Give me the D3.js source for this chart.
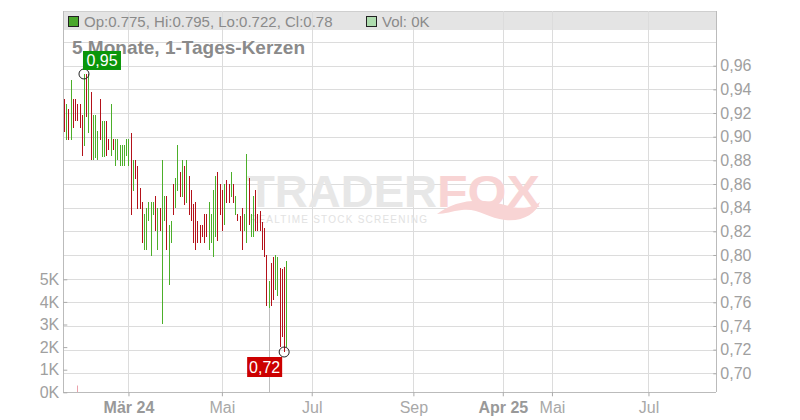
<!DOCTYPE html>
<html><head><meta charset="utf-8">
<script src="https://cdn.jsdelivr.net/npm/d3@7/dist/d3.min.js"></script>
<style>
html,body{margin:0;padding:0;background:#fff;}
svg{display:block;font-family:"Liberation Sans",Arial,sans-serif;}
</style></head><body>
<svg id="c" width="800" height="420"></svg>
<script>
const highs = [0.932,0.928,0.923,0.948,0.932,0.932,0.928,0.928,0.918,0.953,0.953,0.953,0.938,0.918,0.918,0.905,0.932,0.913,0.913,0.913,0.898,0.928,0.898,0.898,0.898,
0.893,0.893,0.893,0.898,0.898,0.903,0.880,0.880,0.875,0.857,0.845,0.835,0.840,0.845,0.845,0.845,0.850,0.840,0.840,0.880,0.850,0.850,0.825,0.829,0.860,0.865,0.893,
0.870,0.880,0.875,0.880,0.867,0.855,0.843,0.845,0.829,0.825,0.825,0.835,0.835,0.845,0.835,0.855,0.867,0.870,0.860,0.855,0.860,0.863,0.860,0.870,0.860,0.850,
0.835,0.833,0.840,0.835,0.885,0.865,0.835,0.850,0.855,0.835,0.837,0.828,0.823,0.800,0.778,0.793,0.798,0.800,0.798,0.789,0.788,0.790,0.795];
const lows = [0.904,0.897,0.897,0.897,0.907,0.913,0.913,0.907,0.884,0.892,0.917,0.903,0.880,0.880,0.882,0.880,0.897,0.883,0.883,0.884,0.889,0.884,0.889,0.875,0.880,
0.875,0.875,0.875,0.884,0.875,0.834,0.854,0.864,0.839,0.839,0.810,0.804,0.804,0.829,0.799,0.834,0.820,0.804,0.820,0.742,0.829,0.804,0.775,0.810,0.834,0.840,0.854,
0.849,0.849,0.842,0.844,0.834,0.829,0.810,0.804,0.810,0.810,0.815,0.810,0.815,0.804,0.810,0.798,0.815,0.812,0.834,0.820,0.825,0.844,0.844,0.849,0.844,0.834,
0.829,0.820,0.804,0.820,0.810,0.825,0.815,0.815,0.820,0.820,0.820,0.804,0.798,0.757,0.755,0.757,0.762,0.770,0.765,0.722,0.731,0.718,0.722];
const ups = [0,1,0,1,0,0,0,0,0,1,0,1,0,1,1,1,0,1,1,0,0,1,0,1,1,
1,1,1,1,1,0,1,0,0,0,0,1,1,1,1,1,0,1,0,1,1,0,1,1,0,1,1,
0,1,0,1,0,0,0,0,0,0,0,0,0,1,1,1,1,0,0,0,1,0,0,1,0,1,
0,0,0,1,1,0,1,1,0,0,0,0,0,0,1,0,0,1,1,0,0,0,1];
const volumeIdx = [6, 92];
const volumeVals = [300, 3750];
const xTickIdx = [29, 71, 111.4, 157.1, 197.3, 219.4, 262.8];
const xTickLabels = ["Mär 24", "Mai", "Jul", "Sep", "Apr 25", "Mai", "Jul"];
const xTickBold = [true, false, false, false, true, false, false];
const priceTicks = [0.70,0.72,0.74,0.76,0.78,0.80,0.82,0.84,0.86,0.88,0.90,0.92,0.94,0.96];
const priceGrid = [0.70,0.72,0.74,0.76,0.78,0.80,0.82,0.84,0.86,0.88,0.90,0.92,0.94,0.96,0.98];
const volTicks = [0,1000,2000,3000,4000,5000];
const legendOHLC = "Op:0.775, Hi:0.795, Lo:0.722, Cl:0.78";
const legendVol = "Vol: 0K";
const titleText = "5 Monate, 1-Tages-Kerzen";

const GREEN = "#4caf2a", RED = "#b3121a";
const svg = d3.select("#c");
const L = 63.3, R = 716.3, T = 11, B = 392.3;
const x = d3.scaleLinear().domain([-0.3, 293.3]).range([L, R]);
const y = d3.scaleLinear().domain([0.70, 0.96]).range([373.3, 65.7]);
const yv = d3.scaleLinear().domain([0, 5000]).range([B, 279.3]);
const fmt = v => d3.format(".2f")(v).replace(".", ",");

// legend band
svg.append("rect").attr("x", L).attr("y", T).attr("width", R - L).attr("height", 19).attr("fill", "#e4e4e4");
svg.append("line").attr("x1", L).attr("x2", R).attr("y1", T + 0.5).attr("y2", T + 0.5).attr("stroke", "#cfcfcf");

// grid
const g = svg.append("g").attr("shape-rendering", "crispEdges");
g.selectAll("line.h").data(priceGrid).join("line")
  .attr("x1", L).attr("x2", R)
  .attr("y1", d => Math.round(y(d)) + 0.5).attr("y2", d => Math.round(y(d)) + 0.5)
  .attr("stroke", "#dcdcdc");
g.selectAll("line.v").data(xTickIdx).join("line")
  .attr("x1", d => Math.round(x(d)) + 0.5).attr("x2", d => Math.round(x(d)) + 0.5)
  .attr("y1", T).attr("y2", B)
  .attr("stroke", "#dcdcdc");

// watermark
const wm = svg.append("g");
wm.append("text").attr("x", 247).attr("y", 207).attr("font-size", 44).attr("font-weight", "bold")
  .attr("fill", "#e7e7e7").attr("textLength", 190).attr("lengthAdjust", "spacingAndGlyphs").text("TRADER");
wm.append("text").attr("x", 437).attr("y", 207).attr("font-size", 44).attr("font-weight", "bold")
  .attr("fill", "#f8d4d4").attr("textLength", 103).attr("lengthAdjust", "spacingAndGlyphs").text("FOX");
wm.append("text").attr("x", 250).attr("y", 223).attr("font-size", 10).attr("fill", "#e2e2e2")
  .attr("textLength", 177).attr("lengthAdjust", "spacing").text("REALTIME STOCK SCREENING");
wm.append("path").attr("fill", "#f8d4d4")
  .attr("d", "M437,214 C455,200 480,197 505,205 C520,210 532,208 540,202 C536,214 522,222 505,220 C488,218 478,208 462,210 C452,211 445,214 437,214 Z");

// volume bars
svg.append("g").selectAll("rect").data(volumeIdx).join("rect")
  .attr("x", d => Math.round(x(d)))
  .attr("y", (d, i) => yv(volumeVals[i]))
  .attr("width", 1)
  .attr("height", (d, i) => B - yv(volumeVals[i]))
  .attr("fill", d => ups[d] ? "#bdbdbd" : "#eba2ab");

// candles
svg.append("g").attr("shape-rendering", "crispEdges").selectAll("rect").data(highs).join("rect")
  .attr("x", (d, i) => Math.round(x(i)))
  .attr("y", d => y(d))
  .attr("width", 1)
  .attr("height", (d, i) => Math.max(1, y(lows[i]) - y(d)))
  .attr("fill", (d, i) => ups[i] ? GREEN : RED);

// axes lines
svg.append("line").attr("x1", L).attr("x2", L).attr("y1", T).attr("y2", B).attr("stroke", "#bbb").attr("shape-rendering", "crispEdges");
svg.append("line").attr("x1", R).attr("x2", R).attr("y1", T).attr("y2", B).attr("stroke", "#bbb").attr("shape-rendering", "crispEdges");
svg.append("line").attr("x1", L).attr("x2", R).attr("y1", B).attr("y2", B).attr("stroke", "#bbb").attr("shape-rendering", "crispEdges");

// right price axis
const ya = d3.axisLeft(y).tickValues(priceTicks).tickSize(3).tickFormat(fmt);
const yag = svg.append("g").attr("transform", `translate(${R},0)`).call(ya);
yag.select(".domain").remove();
yag.selectAll(".tick line").attr("stroke", "#aaa");
yag.selectAll(".tick text").attr("x", 4).attr("text-anchor", "start").attr("fill", "#a0a0a0")
  .attr("font-size", 16).attr("font-family", "Liberation Sans, Arial, sans-serif");

// left volume axis
const va = d3.axisRight(yv).tickValues(volTicks).tickSize(4).tickFormat(d => (d / 1000) + "K");
const vag = svg.append("g").attr("transform", `translate(${L},0)`).call(va);
vag.select(".domain").remove();
vag.selectAll(".tick line").attr("stroke", "#aaa");
vag.selectAll(".tick text").attr("x", -4).attr("text-anchor", "end").attr("fill", "#a0a0a0")
  .attr("font-size", 16).attr("font-family", "Liberation Sans, Arial, sans-serif");

// bottom x axis
const xa = d3.axisBottom(x).tickValues(xTickIdx).tickSize(4).tickFormat((d, i) => xTickLabels[i]);
const xag = svg.append("g").attr("transform", `translate(0,${B})`).call(xa);
xag.select(".domain").remove();
xag.selectAll(".tick line").attr("stroke", "#aaa");
xag.selectAll(".tick text").attr("y", 9).attr("fill", (d, i) => xTickBold[i] ? "#999" : "#a8a8a8")
  .attr("font-weight", (d, i) => xTickBold[i] ? "bold" : "normal")
  .attr("font-size", 16).attr("font-family", "Liberation Sans, Arial, sans-serif");

// legend
svg.append("rect").attr("x", 68.5).attr("y", 16.5).attr("width", 10).attr("height", 10).attr("fill", "#4aa82c").attr("stroke", "#222");
svg.append("text").attr("x", 84).attr("y", 27).attr("font-size", 15).attr("fill", "#8a8a8a").text(legendOHLC);
svg.append("rect").attr("x", 366.5).attr("y", 16.5).attr("width", 10).attr("height", 10).attr("fill", "#aedcae").attr("stroke", "#222");
svg.append("text").attr("x", 382).attr("y", 27).attr("font-size", 15).attr("fill", "#8a8a8a").text(legendVol);

// title
svg.append("text").attr("x", 72).attr("y", 54).attr("font-size", 19).attr("font-weight", "bold").attr("fill", "#8a8a8a").text(titleText);

// extreme markers
const hiIdx = d3.maxIndex(highs), loIdx = d3.minIndex(lows);
const mk = svg.append("g");
mk.append("circle").attr("cx", x(hiIdx)).attr("cy", y(highs[hiIdx])).attr("r", 5).attr("fill", "none").attr("stroke", "#222");
mk.append("circle").attr("cx", x(loIdx)).attr("cy", y(lows[loIdx])).attr("r", 5).attr("fill", "none").attr("stroke", "#222");
mk.append("rect").attr("x", x(hiIdx) - 1).attr("y", y(highs[hiIdx]) - 23).attr("width", 38).attr("height", 19).attr("fill", "#0a960a");
mk.append("text").attr("x", x(hiIdx) + 18).attr("y", y(highs[hiIdx]) - 8).attr("text-anchor", "middle").attr("font-size", 16).attr("fill", "#fff").text(fmt(highs[hiIdx]));
mk.append("rect").attr("x", x(loIdx) - 37).attr("y", y(lows[loIdx]) + 5).attr("width", 35).attr("height", 20).attr("fill", "#cc0000");
mk.append("text").attr("x", x(loIdx) - 19.5).attr("y", y(lows[loIdx]) + 21).attr("text-anchor", "middle").attr("font-size", 16).attr("fill", "#fff").text(fmt(lows[loIdx]));
</script>
</body></html>
